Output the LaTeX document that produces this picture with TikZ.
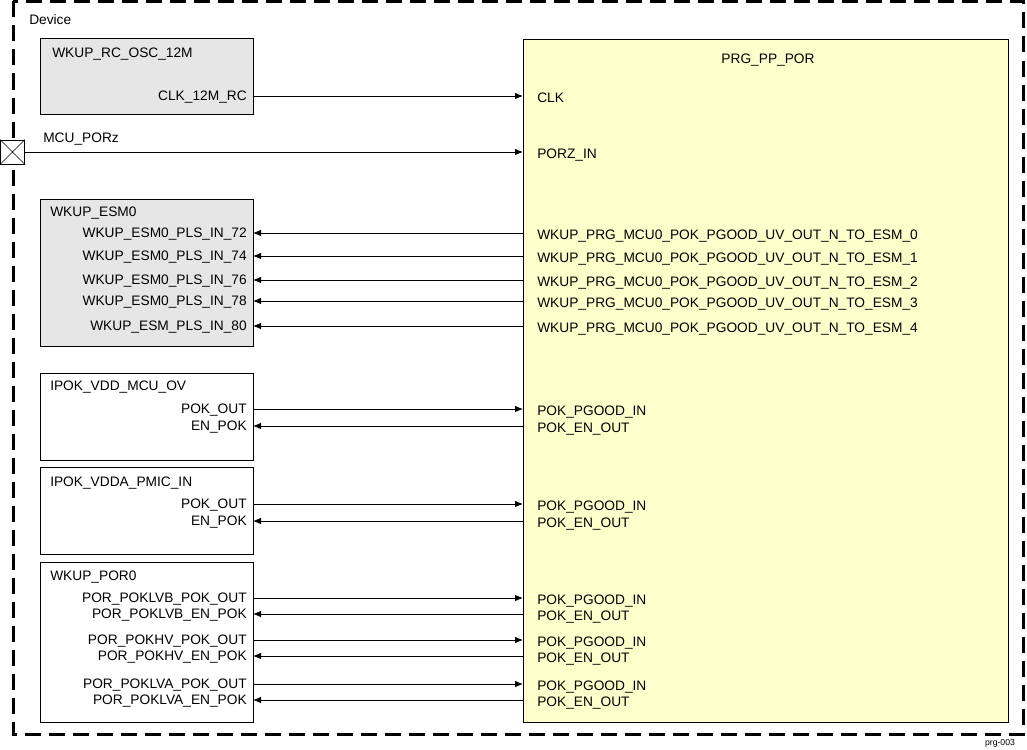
\documentclass[tikz,border=0pt]{standalone}
\usepackage{fontspec}
\setmainfont{Liberation Sans}
\usetikzlibrary{arrows.meta,positioning}
\definecolor{blkgray}{RGB}{230,230,230}
\definecolor{porylw}{RGB}{255,255,204}

\begin{document}
\begin{tikzpicture}[x=0.75pt,y=-0.75pt,
	font=\fontsize{10.3}{12}\selectfont,
	>={Latex[length=6pt,width=5pt]},
	blk/.style={draw,line width=0.75pt},
	sig/.style={line width=0.75pt},
	lbl/.style={inner sep=0pt,text height=7.4pt,text depth=0pt},
	title/.style={lbl,anchor=west},
	lport/.style={lbl,anchor=east,inner xsep=4.5pt},
	rport/.style={lbl,anchor=west,inner xsep=10.5pt,text height=9.4pt}]
	
	\useasboundingbox (0,0) rectangle (1027,749);
	
	\draw[line width=2.25pt,dash pattern=on 12pt off 6pt] (13,1.5) rectangle (1023,734);
	\node[title] (dev) at (29,20) {Device};
	
	\draw[blk,fill=blkgray] (40,39) rectangle (253,114);
	\draw[blk,fill=blkgray] (40,199) rectangle (253,346);
	\draw[blk] (40,373) rectangle (253,460);
	\draw[blk] (40,467) rectangle (253,554);
	\draw[blk] (40,562) rectangle (253,722);
	\draw[blk,fill=porylw] (523,40) rectangle (1008,722);
	
	\node[title] (osc) at (52,53) {WKUP\_RC\_OSC\_12M};
	\node[title] (esm) at (50,212) {WKUP\_ESM0};
	\node[title] (vdd) at (50,386) {IPOK\_VDD\_MCU\_OV};
	\node[title] (vdda) at (50,482) {IPOK\_VDDA\_PMIC\_IN};
	\node[title] (por) at (50,576) {WKUP\_POR0};
	\node[lbl] (prg) at (768,59) {PRG\_PP\_POR};
	
	% clock and reset
	\node[lport] (clkout) at (253,96) {CLK\_12M\_RC};
	\node[rport] (clkin) at (523,96) {CLK};
	\draw[sig,->] (clkout) -- (clkin);
	
	\node[draw,fill=white,line width=0.75pt,minimum size=18pt,inner sep=0pt] (pad) at (12.5,152) {};
	\draw[line width=0.5pt] (pad.north west) -- (pad.south east) (pad.north east) -- (pad.south west);
	\node[title] (porz) at (43,138) {MCU\_PORz};
	\node[rport] (porzin) at (523,152) {PORZ\_IN};
	\draw[sig,->] (pad) -- (porzin);
	
	% esm
	\node[lport] (esm72) at (253,233) {WKUP\_ESM0\_PLS\_IN\_72};
	\node[lport] (esm74) at (253,256) {WKUP\_ESM0\_PLS\_IN\_74};
	\node[lport] (esm76) at (253,280) {WKUP\_ESM0\_PLS\_IN\_76};
	\node[lport] (esm78) at (253,301) {WKUP\_ESM0\_PLS\_IN\_78};
	\node[lport] (esm80) at (253,326) {WKUP\_ESM\_PLS\_IN\_80};
	\node[rport] (uv0) at (523,233) {WKUP\_PRG\_MCU0\_POK\_PGOOD\_UV\_OUT\_N\_TO\_ESM\_0};
	\node[rport] (uv1) at (523,256) {WKUP\_PRG\_MCU0\_POK\_PGOOD\_UV\_OUT\_N\_TO\_ESM\_1};
	\node[rport] (uv2) at (523,280) {WKUP\_PRG\_MCU0\_POK\_PGOOD\_UV\_OUT\_N\_TO\_ESM\_2};
	\node[rport] (uv3) at (523,301) {WKUP\_PRG\_MCU0\_POK\_PGOOD\_UV\_OUT\_N\_TO\_ESM\_3};
	\node[rport] (uv4) at (523,326) {WKUP\_PRG\_MCU0\_POK\_PGOOD\_UV\_OUT\_N\_TO\_ESM\_4};
	\draw[sig,<-] (esm72) -- (uv0);
	\draw[sig,<-] (esm74) -- (uv1);
	\draw[sig,<-] (esm76) -- (uv2);
	\draw[sig,<-] (esm78) -- (uv3);
	\draw[sig,<-] (esm80) -- (uv4);
	
	% pok
	\node[lport] (vddout) at (253,409) {POK\_OUT};
	\node[lport] (vdden) at (253,426) {EN\_POK};
	\node[rport] (vddin) at (523,409) {POK\_PGOOD\_IN};
	\node[rport] (vddenout) at (523,426) {POK\_EN\_OUT};
	\draw[sig,->] (vddout) -- (vddin);
	\draw[sig,<-] (vdden) -- (vddenout);
	
	\node[lport] (vddaout) at (253,504) {POK\_OUT};
	\node[lport] (vddaen) at (253,521) {EN\_POK};
	\node[rport] (vddain) at (523,504) {POK\_PGOOD\_IN};
	\node[rport] (vddaenout) at (523,521) {POK\_EN\_OUT};
	\draw[sig,->] (vddaout) -- (vddain);
	\draw[sig,<-] (vddaen) -- (vddaenout);
	
	% por
	\node[lport] (lvbout) at (253,598) {POR\_POKLVB\_POK\_OUT};
	\node[lport] (lvben) at (253,614) {POR\_POKLVB\_EN\_POK};
	\node[rport] (lvbin) at (523,598) {POK\_PGOOD\_IN};
	\node[rport] (lvbenout) at (523,614) {POK\_EN\_OUT};
	\draw[sig,->] (lvbout) -- (lvbin);
	\draw[sig,<-] (lvben) -- (lvbenout);
	
	\node[lport] (hvout) at (253,640) {POR\_POKHV\_POK\_OUT};
	\node[lport] (hven) at (253,656) {POR\_POKHV\_EN\_POK};
	\node[rport] (hvin) at (523,640) {POK\_PGOOD\_IN};
	\node[rport] (hvenout) at (523,656) {POK\_EN\_OUT};
	\draw[sig,->] (hvout) -- (hvin);
	\draw[sig,<-] (hven) -- (hvenout);
	
	\node[lport] (lvaout) at (253,684) {POR\_POKLVA\_POK\_OUT};
	\node[lport] (lvaen) at (253,700) {POR\_POKLVA\_EN\_POK};
	\node[rport] (lvain) at (523,684) {POK\_PGOOD\_IN};
	\node[rport] (lvaenout) at (523,700) {POK\_EN\_OUT};
	\draw[sig,->] (lvaout) -- (lvain);
	\draw[sig,<-] (lvaen) -- (lvaenout);
	
	\node[font=\fontsize{6.5}{7}\selectfont,inner sep=0pt] (figid) at (1000,743) {prg-003};
	
\end{tikzpicture}
\end{document}
